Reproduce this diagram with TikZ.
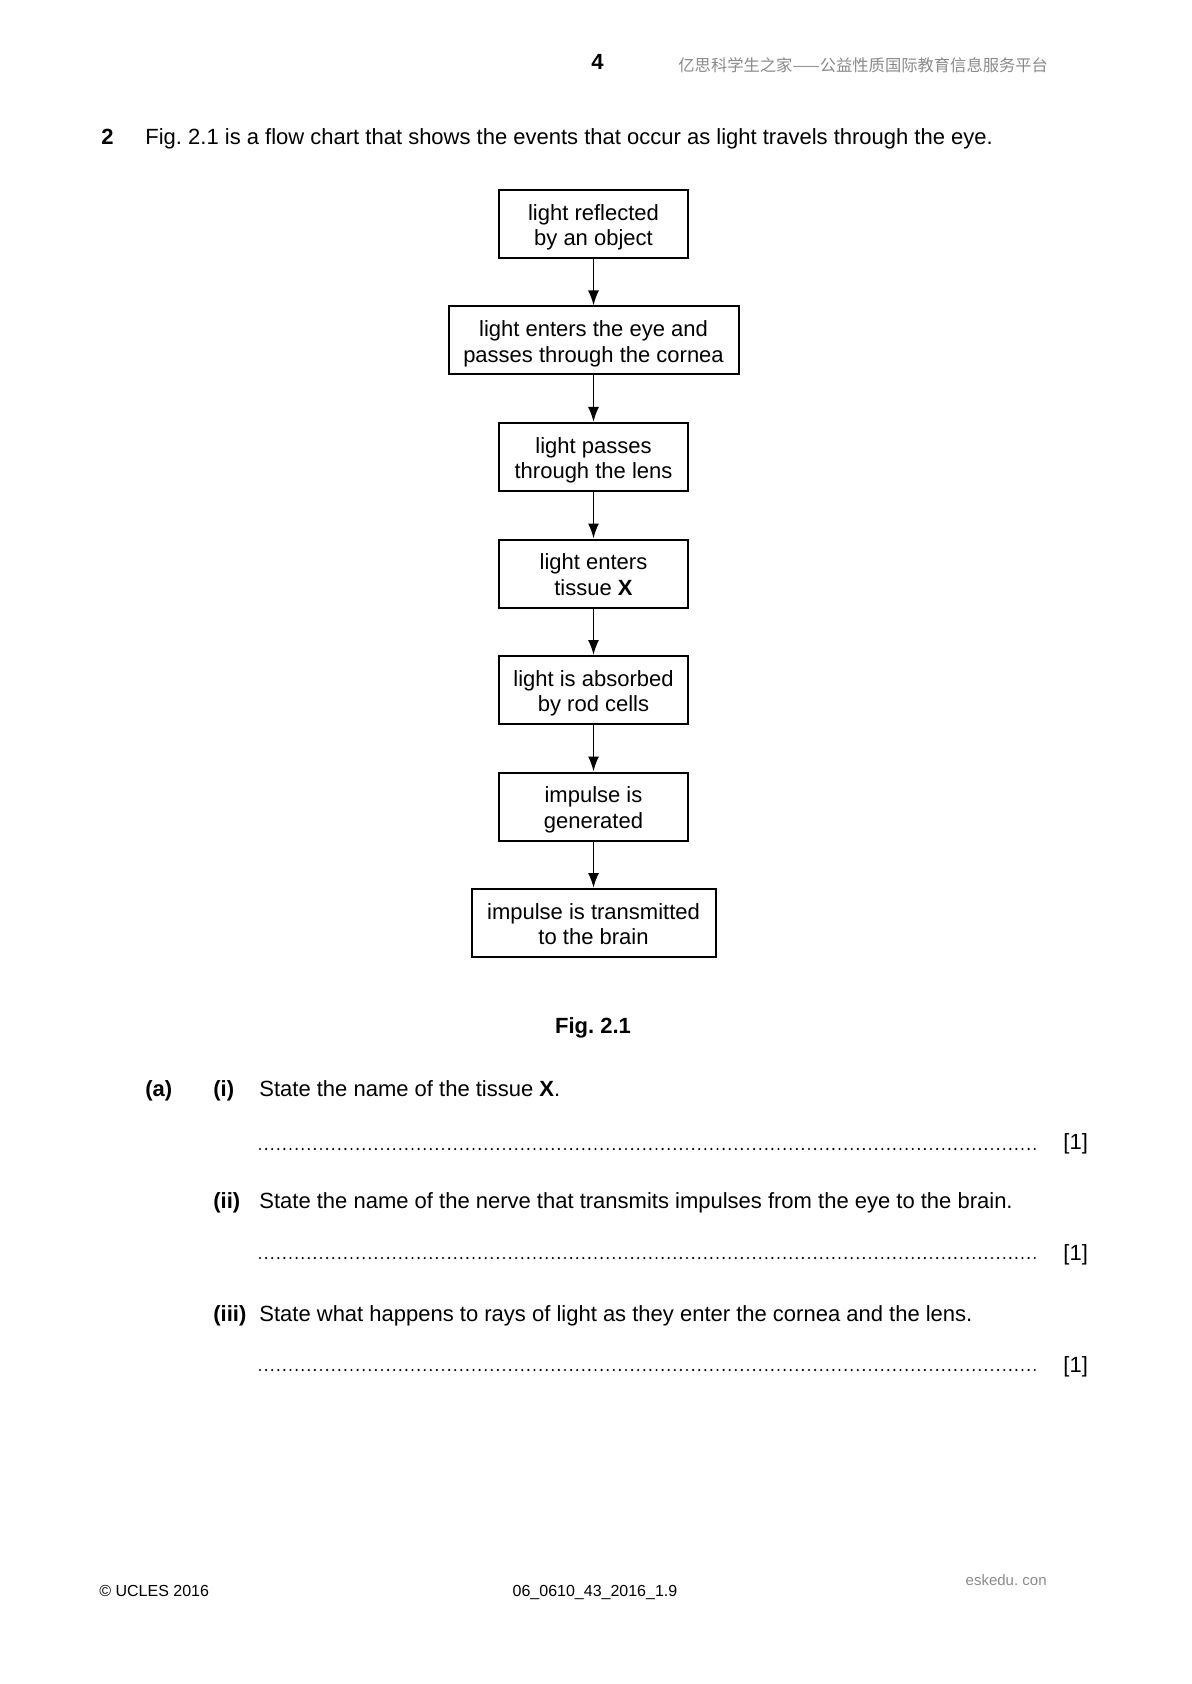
\documentclass[tikz,border=0pt]{standalone}
\usepackage{fontspec}
\setmainfont{Liberation Sans}
\newfontfamily\cjk{Noto Sans CJK SC}
\usetikzlibrary{arrows.meta}
\definecolor{hdrgray}{HTML}{8A8A8A}
\frenchspacing
\newcommand{\fbtext}[2]{\rule{0pt}{11.6pt}#1\\#2\rule[-2.6pt]{0pt}{0pt}}
\begin{document}
\begin{tikzpicture}[x=0.5pt,y=-0.5pt,
  flowbox/.style={draw, line width=1pt, align=center, inner sep=0pt, minimum height=34pt,
    font=\fontsize{11}{12.75}\selectfont},
  flowarrow/.style={-{Latex[length=7.5pt,width=5.5pt]}, line width=0.85pt},
  txt/.style={anchor=base west, inner sep=0pt, font=\fontsize{11}{13}\selectfont},
  ctxt/.style={anchor=base, inner sep=0pt, font=\fontsize{11}{13}\selectfont},
  foot/.style={inner sep=0pt, font=\fontsize{8}{10}\selectfont},
  answerline/.style={line width=1.2pt, line cap=round, dash pattern=on 0pt off 3.05pt},
]
\useasboundingbox (0,0) rectangle (1191,1684);
\fill[white] (0,0) rectangle (1191,1684);

% header
\node[ctxt, font=\fontsize{11}{13}\selectfont\bfseries] (pg) at (597.5,70) {4};
\node[anchor=base west, inner sep=0pt, text=hdrgray, font=\cjk\fontsize{8.15}{10}\selectfont] (hdr) at (678,72) {亿思科学生之家——公益性质国际教育信息服务平台};

% question stem
\node[txt, font=\fontsize{11}{13}\selectfont\bfseries] (qn) at (101,145) {2};
\node[txt] (qt) at (145,145) {Fig. 2.1 is a flow chart that shows the events that occur as light travels through the eye.};

% flow chart
\node[flowbox, minimum width=94.5pt] (b1) at (593.5,224) {\fbtext{light reflected}{by an object}};
\node[flowbox, minimum width=145pt] (b2) at (593.5,340.5) {\fbtext{light enters the eye and}{passes through the cornea}};
\node[flowbox, minimum width=94.5pt] (b3) at (593.5,457) {\fbtext{light passes}{through the lens}};
\node[flowbox, minimum width=94.5pt] (b4) at (593.5,573.5) {\fbtext{light enters}{tissue \textbf{X}}};
\node[flowbox, minimum width=94.5pt] (b5) at (593.5,690) {\fbtext{light is absorbed}{by rod cells}};
\node[flowbox, minimum width=94.5pt] (b6) at (593.5,806.5) {\fbtext{impulse is}{generated}};
\node[flowbox, minimum width=122pt] (b7) at (593.5,923) {\fbtext{impulse is transmitted}{to the brain}};

\draw[flowarrow] (b1) -- (b2);
\draw[flowarrow] (b2) -- (b3);
\draw[flowarrow] (b3) -- (b4);
\draw[flowarrow] (b4) -- (b5);
\draw[flowarrow] (b5) -- (b6);
\draw[flowarrow] (b6) -- (b7);

\node[ctxt, font=\fontsize{11}{13}\selectfont\bfseries] (fig) at (593,1033) {Fig. 2.1};

% part (a)(i)
\node[txt, font=\fontsize{11}{13}\selectfont\bfseries] (pa) at (145,1096) {(a)};
\node[txt, font=\fontsize{11}{13}\selectfont\bfseries] (pi) at (213,1096) {(i)};
\node[txt] (ti) at (259,1096) {State the name of the tissue \textbf{X}.};
\coordinate (d1s) at (260,1149);
\coordinate (d1e) at (1038,1149);
\draw[answerline] (d1s) -- (d1e);
\node[txt] (m1) at (1063,1149) {[1]};

% (ii)
\node[txt, font=\fontsize{11}{13}\selectfont\bfseries] (pii) at (213,1208) {(ii)};
\node[txt] (tii) at (259,1208) {State the name of the nerve that transmits impulses from the eye to the brain.};
\coordinate (d2s) at (260,1258);
\coordinate (d2e) at (1038,1258);
\draw[answerline] (d2s) -- (d2e);
\node[txt] (m2) at (1063,1260) {[1]};

% (iii)
\node[txt, font=\fontsize{11}{13}\selectfont\bfseries] (piii) at (213,1321) {(iii)};
\node[txt] (tiii) at (259,1321) {State what happens to rays of light as they enter the cornea and the lens.};
\coordinate (d3s) at (260,1370);
\coordinate (d3e) at (1038,1370);
\draw[answerline] (d3s) -- (d3e);
\node[txt] (m3) at (1063,1372) {[1]};

% footer
\node[foot, anchor=base west] (f1) at (99,1596) {\textcopyright\ UCLES 2016};
\node[foot, anchor=base] (f2) at (595,1596) {06\_0610\_43\_2016\_1.9};
\node[foot, anchor=base east, text=hdrgray, font=\fontsize{7.5}{9}\selectfont] (f3) at (1047,1585) {eskedu. con};
\end{tikzpicture}
\end{document}
